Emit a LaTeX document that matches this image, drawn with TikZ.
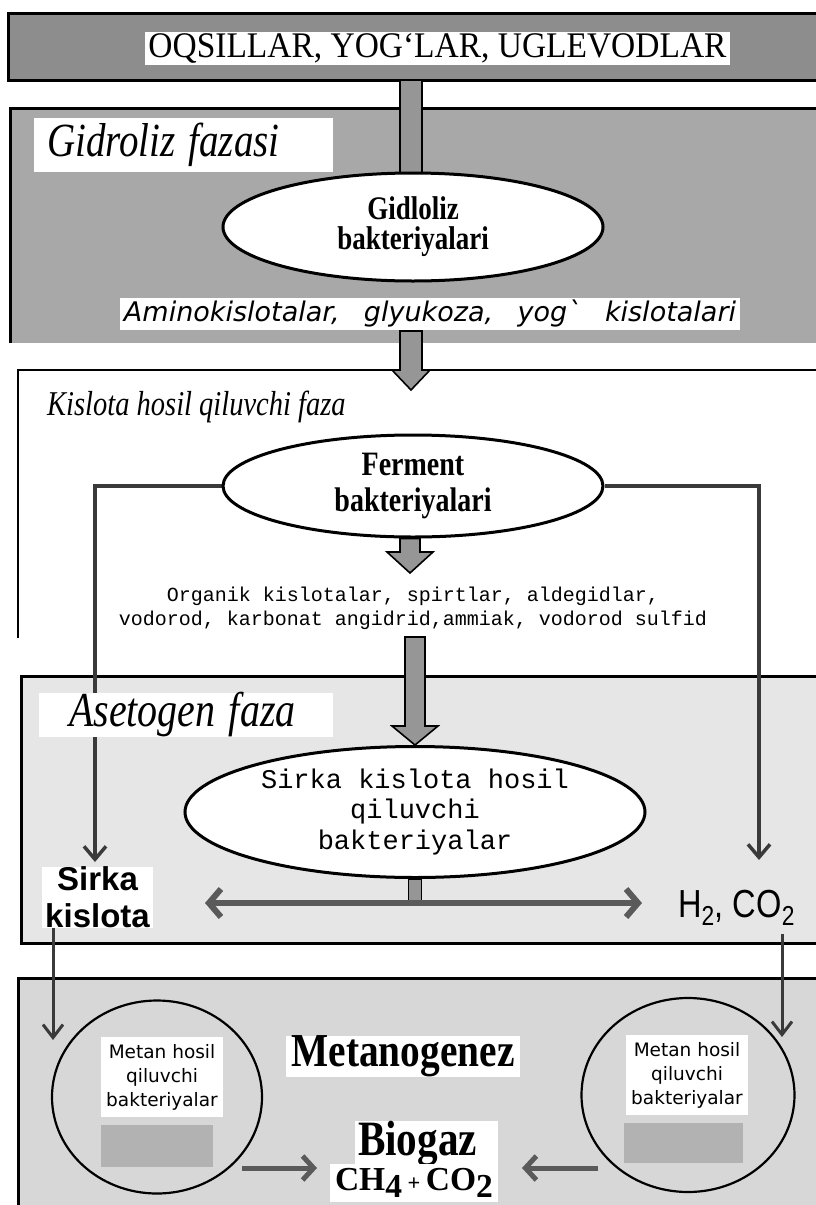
\documentclass[tikz,border=0pt]{standalone}
\usepackage{fontspec}
\setmainfont{Liberation Serif}
\newfontfamily\lsans{Liberation Sans}
\newfontfamily\lmono{Liberation Mono}
\newfontfamily\dvsans{DejaVu Sans}
\usetikzlibrary{shapes.geometric,arrows.meta,calc}
\pgfdeclarelayer{back}
\pgfdeclarelayer{mid}
\pgfsetlayers{back,mid,main}
\definecolor{bandA}{HTML}{8D8D8D}
\definecolor{bandB}{HTML}{A8A8A8}
\definecolor{bandD}{HTML}{E6E6E6}
\definecolor{bandE}{HTML}{D7D7D7}
\definecolor{fatgray}{HTML}{969696}
\definecolor{linegray}{HTML}{3A3A3A}
\definecolor{patchgray}{HTML}{B2B2B2}
\definecolor{dblgray}{HTML}{5A5A5A}
\newcommand{\fsz}[2]{\fontsize{#1}{#2}\selectfont}
\newcommand{\tall}[1]{\scalebox{1}[1.22]{#1}}
% fat downward arrow: start, tip, shaft half width, head half width, head length
\newcommand{\fatdown}[5]{\draw[fatarrow] let \p1=(#1), \p2=(#2) in
  (\x2-#3,\y1) -- (\x2-#3,\y2+#5) -- (\x2-#4,\y2+#5) -- (\x2,\y2) --
  (\x2+#4,\y2+#5) -- (\x2+#3,\y2+#5) -- (\x2+#3,\y1) -- cycle;}
\begin{document}
\begin{tikzpicture}[x=1pt,y=-1pt,
  bandline/.style={line width=3pt,draw=black},
  whitebox/.style={fill=white,inner sep=0pt},
  ellnode/.style={ellipse,draw=black,line width=3pt,fill=white,inner sep=0pt,align=center},
  circnode/.style={ellipse,draw=black,line width=2.2pt,inner sep=0pt},
  fatarrow/.style={fill=fatgray,draw=black,line width=1.6pt,line join=miter},
  thinarrow/.style={draw=linegray,line width=3.5pt,-{Straight Barb[length=13pt,width=22pt]}},
  lowarrow/.style={draw=linegray,line width=3pt,-{Straight Barb[length=13pt,width=20pt]}},
  dblarrow/.style={draw=dblgray,line width=6pt,{Straight Barb[length=12pt,width=28pt]}-{Straight Barb[length=12pt,width=28pt]}},
  bioarrow/.style={draw=dblgray,line width=5pt,-{Straight Barb[length=11pt,width=24pt]}}]
\path[use as bounding box] (0,0) rectangle (815,1205);

% ---------- bands ----------
\begin{pgfonlayer}{back}
  \fill[white] (0,0) rectangle (815,1205);
  % band 1
  \fill[bandA] (8,13) rectangle (830,80);
  \draw[bandline] (830,13) -- (8,13) -- (8,80) -- (830,80);
  % band 2
  \fill[bandB] (10,108) rectangle (830,343);
  \draw[bandline] (10,343) -- (10,108) -- (830,108);
  % band 3
  \draw[line width=2.5pt] (18,638) -- (18,370) -- (830,370);
  % band 4
  \fill[bandD] (21,676) rectangle (830,943);
  \draw[bandline] (830,676) -- (21,676) -- (21,943) -- (830,943);
  % band 5
  \fill[bandE] (18,978) rectangle (830,1220);
  \draw[bandline] (18,1220) -- (18,978) -- (830,978);
  % grey patches inside the circles
  \fill[patchgray] (101,1125) rectangle (213,1167);
  \fill[patchgray] (624,1123) rectangle (743,1163);
\end{pgfonlayer}

% ---------- nodes ----------
\node[whitebox,minimum width=585pt,minimum height=33pt] (title) at (437.5,48.5)
  {\resizebox{578pt}{24pt}{OQSILLAR, YOG`LAR, UGLEVODLAR}};

\node[whitebox,minimum height=54pt,text width=273pt,inner xsep=13pt,align=left,
  font={\itshape\fsz{39}{42}}] (hdrA) at (183.5,145) {\tall{Gidroliz fazasi}};

\node[ellnode,minimum width=380pt,minimum height=108pt,font={\bfseries\fsz{27}{30}}]
  (e1) at (413,227) {\tall{Gidloliz}\\\tall{bakteriyalari}};

\node[whitebox,minimum width=620pt,minimum height=32pt] (amino) at (430,314)
  {\resizebox{612pt}{!}{\dvsans\itshape\fsz{22}{24}Aminokislotalar,\hspace{0.9em}glyukoza,\hspace{0.9em}yog`\hspace{0.9em}kislotalari}};

\node[inner sep=0pt,anchor=base west,font={\itshape\fsz{28.5}{30}}] (hdrB) at (47,415)
  {\tall{Kislota hosil qiluvchi faza}};

\node[ellnode,minimum width=380pt,minimum height=102pt,font={\bfseries\fsz{28}{36}}]
  (e2) at (413,486) {\tall{Ferment}\\\tall{bakteriyalari}};

\node[inner sep=0pt,align=center,font={\lmono\fsz{20}{24}}] (org) at (413,608)
  {Organik kislotalar, spirtlar, aldegidlar,\\vodorod, karbonat angidrid,ammiak, vodorod sulfid};

\node[whitebox,minimum height=44pt,text width=234pt,inner xsep=30pt,align=left,
  font={\itshape\fsz{40}{42}}] (hdrC) at (186,715) {\tall{Asetogen faza}};

\node[ellnode,minimum width=460pt,minimum height=131pt,font={\lmono\fsz{27}{30.5}}]
  (e3) at (415,812) {Sirka kislota hosil\\qiluvchi\\bakteriyalar};

\node[whitebox,minimum width=111pt,minimum height=61pt,align=center,
  font={\lsans\bfseries\fsz{33}{37}}] (sk) at (97.5,897.5) {Sirka\\kislota};

\node[inner sep=0pt] (gas) at (736.5,907.5)
  {\scalebox{1}[1.2]{\resizebox{117pt}{!}{\lsans\fsz{30}{32}H\textsubscript{2}, CO\textsubscript{2}}}};

\node[circnode,minimum width=210pt,minimum height=193pt] (c1) at (157,1097) {};
\node[circnode,minimum width=213pt,minimum height=194pt] (c2) at (688,1095) {};

\node[whitebox,minimum width=122pt,minimum height=80pt,align=center,
  font={\dvsans\fsz{18.5}{24}}] (m1) at (162,1077) {Metan hosil\\qiluvchi\\bakteriyalar};
\node[whitebox,minimum width=122pt,minimum height=80pt,align=center,
  font={\dvsans\fsz{18.5}{24}}] (m2) at (687,1075) {Metan hosil\\qiluvchi\\bakteriyalar};

\node[whitebox,minimum width=234pt,minimum height=37pt] (mg) at (403,1056.5)
  {\scalebox{1}[1.2]{\resizebox{223pt}{!}{\bfseries\fsz{40}{40}Metanogenez}}};

\node[whitebox,minimum height=42pt,text width=137pt,inner xsep=3pt,align=left] (bg) at (426.5,1144)
  {\scalebox{1}[1.2]{\resizebox{119pt}{!}{\bfseries\fsz{40}{40}Biogaz}}};

\node[whitebox,minimum width=168pt,minimum height=38pt] (ch) at (414,1183)
  {\resizebox{158pt}{!}{\bfseries\fsz{30}{30}CH\raisebox{-0.2em}{4}\,{\fsz{20}{20}+}\,CO\raisebox{-0.2em}{2}}};

% ---------- named free ends ----------
\coordinate (a1s) at (409,80);
\coordinate (a2s) at (411,331);
\coordinate (a2t) at (411,390);
\coordinate (a3t) at (410,573);
\coordinate (a4s) at (413,637);
\coordinate (lend) at (95,862);
\coordinate (rend) at (759,860);
\coordinate (l2end) at (53,1040);
\coordinate (r2start) at (782,934);
\coordinate (r2end) at (782,1037);
\coordinate (dl) at (205,903);
\coordinate (dr) at (642,903);
\coordinate (bl1) at (242,1168);
\coordinate (bl2) at (317,1168);
\coordinate (br1) at (598,1168);
\coordinate (br2) at (522,1168);

% ---------- connectors ----------
\begin{pgfonlayer}{mid}
  % bar from top band to first ellipse
  \draw[fatarrow] ($(a1s)+(-9,0)$) rectangle ($(e1.north)+(9,2)$);
  % fat arrows
  \fatdown{a2s}{a2t}{11pt}{19pt}{20pt}
  \fatdown{e2.south}{a3t}{10pt}{23pt}{21pt}
  \fatdown{a4s}{e3.north}{10pt}{23pt}{19pt}
  % side lines from Ferment ellipse
  \draw[thinarrow] (e2.west) -- (e2.west -| lend) -- (lend);
  \draw[thinarrow] (e2.east) -- (e2.east -| rend) -- (rend);
  % stem and double arrow
  \draw[fatarrow] ($(e3.south)+(-6.5,0)$) rectangle ($(e3.south |- dl)+(6.5,0)$);
  \draw[dblarrow] (dl) -- (dr);
  % lines down to methanogens
  \draw[lowarrow] (sk.south -| l2end) -- (l2end);
  \draw[lowarrow] (r2start) -- (r2end);
  % arrows to biogas
  \draw[bioarrow] (bl1) -- (bl2);
  \draw[bioarrow] (br1) -- (br2);
\end{pgfonlayer}
\end{tikzpicture}
\end{document}
